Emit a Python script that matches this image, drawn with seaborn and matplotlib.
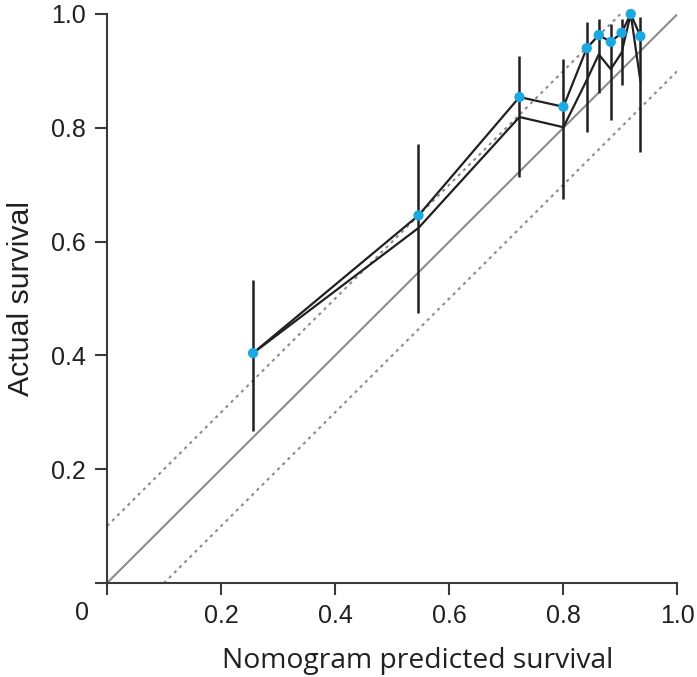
"""
Nomogram calibration plot: predicted vs actual survival with error bars.
"""

import numpy as np
import pandas as pd
import matplotlib
matplotlib.use("Agg")
import matplotlib.pyplot as plt
import seaborn as sns

# predicted survival per group (x) and observed survival (y)
predicted = [0.256, 0.546, 0.723, 0.800, 0.841, 0.862, 0.883, 0.902, 0.918, 0.935]
observed = [0.404, 0.646, 0.854, 0.837, 0.940, 0.963, 0.951, 0.967, 1.000, 0.961]
# bias-corrected estimate
corrected = [0.404, 0.624, 0.819, 0.801, 0.884, 0.929, 0.903, 0.932, 1.000, 0.882]
# 95% CI of observed
ci_low = [0.268, 0.474, 0.714, 0.675, 0.792, 0.862, 0.813, 0.875, 1.000, 0.757]
ci_high = [0.532, 0.772, 0.926, 0.921, 0.986, 0.991, 0.983, 0.991, 1.000, 0.994]

# reference lines: ideal and +/- 10% band
ref_x = [0.0, 1.0]
ideal_y = [0.0, 1.0]
upper_y = [0.1, 1.1]
lower_y = [-0.1, 0.9]

x_ticks = [0, 0.2, 0.4, 0.6, 0.8, 1.0]
x_tick_labels = ["", "0.2", "0.4", "0.6", "0.8", "1.0"]
y_ticks = [0, 0.2, 0.4, 0.6, 0.8, 1.0]
y_tick_labels = ["", "0.2", "0.4", "0.6", "0.8", "1.0"]

BLUE = "#1ba9e1"
INK = "#231f20"
GREY = "#8c8c8c"

sns.set_style("ticks")
plt.rcParams["font.family"] = ["Liberation Sans", "DejaVu Sans"]

df = pd.DataFrame({"predicted": predicted, "observed": observed, "corrected": corrected})
ref = pd.DataFrame({"x": ref_x, "ideal": ideal_y, "upper": upper_y, "lower": lower_y})

fig = plt.figure(figsize=(6.97, 6.77), dpi=100)
ax = fig.add_axes([107 / 697, 94 / 677, 570.5 / 697, 569 / 677])

# reference lines
sns.lineplot(data=ref, x="x", y="ideal", ax=ax, color=GREY, lw=1.5, zorder=1)
for col in ["upper", "lower"]:
    sns.lineplot(data=ref, x="x", y=col, ax=ax, color=GREY, lw=1.5,
                 linestyle=(0, (1.5, 2.0)), zorder=1)

# error bars
ax.vlines(df["predicted"], ci_low, ci_high, color=INK, lw=1.8, zorder=2)

# calibration lines
sns.lineplot(data=df, x="predicted", y="corrected", ax=ax, color=INK, lw=1.6,
             sort=False, zorder=3)
sns.lineplot(data=df, x="predicted", y="observed", ax=ax, color=INK, lw=1.6,
             sort=False, zorder=3)
sns.scatterplot(data=df, x="predicted", y="observed", ax=ax, color=BLUE, s=55,
                edgecolor="none", zorder=4, clip_on=False)

ax.set_xlim(0, 1)
ax.set_ylim(0, 1)
ax.set_xticks(x_ticks)
ax.set_xticklabels(x_tick_labels)
ax.set_yticks(y_ticks)
ax.set_yticklabels(y_tick_labels)
ax.tick_params(axis="both", length=8.5, width=1.5, color="#3a3a3a",
               labelsize=18, labelcolor=INK)
ax.tick_params(axis="x", pad=6.5)
ax.tick_params(axis="y", pad=6.5)
for side in ["left", "bottom"]:
    ax.spines[side].set_linewidth(1.5)
    ax.spines[side].set_color("#3a3a3a")
sns.despine(ax=ax)

# shared origin label
ax.text(-0.044, -0.052, "0", transform=ax.transAxes, ha="center", va="center",
        fontsize=18, color=INK)

ax.set_xlabel("Nomogram predicted survival", fontsize=20.3, color=INK,
              family=["Open Sans", "DejaVu Sans"], labelpad=14)
ax.xaxis.label.set_x(0.545)
ax.set_ylabel("Actual survival", fontsize=21.8, color=INK, labelpad=12)

fig.savefig("out.png", dpi=100)
